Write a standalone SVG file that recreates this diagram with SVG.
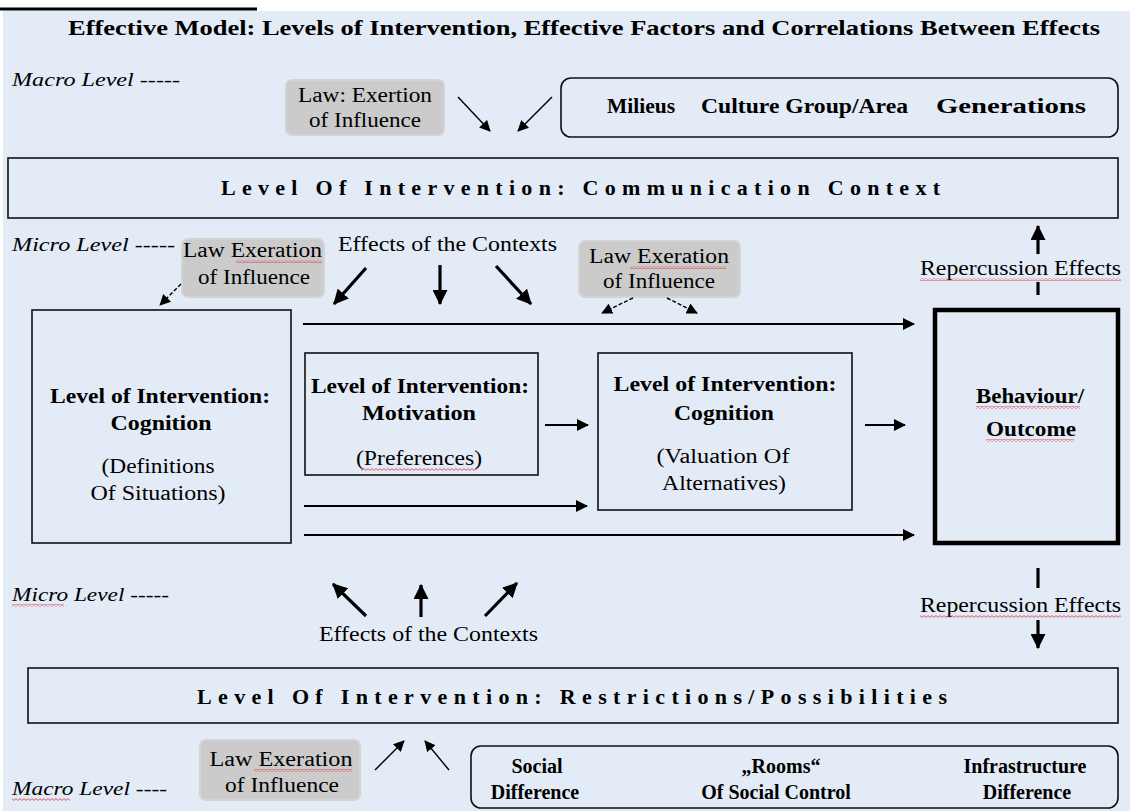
<svg xmlns="http://www.w3.org/2000/svg" width="1130" height="811" viewBox="0 0 1130 811">
<style>
.t{font-family:"Liberation Serif","DejaVu Serif",serif;fill:#000}
.b{font-weight:bold}
.it{font-style:italic}
.box{fill:none;stroke:#111;stroke-width:1.6}
.law{fill:#CBCBCB;stroke:#D4D4D4;stroke-width:2}
.thin{stroke:#000;stroke-width:1.4;fill:none}
.mid{stroke:#000;stroke-width:2;fill:none}
.thick{stroke:#000;stroke-width:3.2;fill:none}
.dash{stroke:#000;stroke-width:1.4;fill:none;stroke-dasharray:4 2}
.sq{fill:url(#squig)}
</style>
<defs>
<marker id="ah" viewBox="0 0 12 12" refX="11" refY="6" markerWidth="12" markerHeight="12" orient="auto" markerUnits="userSpaceOnUse"><path d="M0,0 L12,6 L0,12 z" fill="#000"/></marker>
<marker id="ahs" viewBox="0 0 12 12" refX="11" refY="6" markerWidth="11" markerHeight="11" orient="auto" markerUnits="userSpaceOnUse"><path d="M0,0 L12,6 L0,12 z" fill="#000"/></marker>
<marker id="ahb" viewBox="0 0 14 14" refX="13" refY="7" markerWidth="15" markerHeight="15" orient="auto" markerUnits="userSpaceOnUse"><path d="M0,0 L14,7 L0,14 z" fill="#000"/></marker>
<pattern id="squig" width="4" height="3" patternUnits="userSpaceOnUse"><path d="M0,0.6 L2,2.4 L4,0.6" stroke="#E0303A" stroke-width="0.8" fill="none"/></pattern>
</defs>

<rect x="0" y="0" width="1130" height="811" fill="#FFFFFF"/>
<rect x="3" y="11" width="1127" height="800" fill="#E3EBF6"/>
<line x1="0" y1="9" x2="257" y2="9" stroke="#000" stroke-width="3"/>

<text class="t b" x="68" y="35" font-size="22" textLength="1032" lengthAdjust="spacingAndGlyphs">Effective Model: Levels of Intervention, Effective Factors and Correlations Between Effects</text>

<g id="level-labels">
<text class="t it" x="12" y="86" font-size="19" textLength="168" lengthAdjust="spacingAndGlyphs">Macro Level -----</text>
<text class="t it" x="12" y="251" font-size="19" textLength="163" lengthAdjust="spacingAndGlyphs">Micro Level -----</text>
<text class="t it" x="12" y="601" font-size="19" textLength="157" lengthAdjust="spacingAndGlyphs">Micro Level -----</text>
<rect class="sq" x="12" y="604" width="52" height="3"/>
<text class="t it" x="12" y="795" font-size="19" textLength="155" lengthAdjust="spacingAndGlyphs">Macro Level ----</text>
<rect class="sq" x="12" y="798" width="58" height="3"/>
</g>

<g id="law-top">
<rect class="law" x="286" y="80" width="158" height="55" rx="6"/>
<text class="t" x="365" y="102" font-size="20" text-anchor="middle" textLength="134" lengthAdjust="spacingAndGlyphs">Law: Exertion</text>
<text class="t" x="365" y="127" font-size="20" text-anchor="middle" textLength="112" lengthAdjust="spacingAndGlyphs">of Influence</text>
</g>

<g id="macro-top">
<rect class="box" x="561" y="78" width="557" height="59" rx="10"/>
<text class="t b" x="607" y="113" font-size="20" textLength="68" lengthAdjust="spacingAndGlyphs">Milieus</text>
<text class="t b" x="701" y="113" font-size="20" textLength="207" lengthAdjust="spacingAndGlyphs">Culture Group/Area</text>
<text class="t b" x="936" y="113" font-size="20" textLength="150" lengthAdjust="spacingAndGlyphs">Generations</text>
</g>

<g id="communication-context">
<rect class="box" x="8" y="158" width="1110" height="60"/>
<text class="t b" x="221" y="195" font-size="22" textLength="719" lengthAdjust="spacing">Level Of Intervention: Communication Context</text>
</g>

<g id="law-micro-left">
<rect class="law" x="182" y="239" width="142" height="58" rx="6"/>
<text class="t" x="183" y="257" font-size="20" textLength="139" lengthAdjust="spacingAndGlyphs">Law Exeration</text>
<rect class="sq" x="236" y="260" width="86" height="3"/>
<text class="t" x="254" y="284" font-size="20" text-anchor="middle" textLength="112" lengthAdjust="spacingAndGlyphs">of Influence</text>
</g>

<g id="effects-top">
<text class="t" x="338" y="251" font-size="20" textLength="219" lengthAdjust="spacingAndGlyphs">Effects of the Contexts</text>
</g>

<g id="law-micro-right">
<rect class="law" x="579" y="241" width="161" height="56" rx="6"/>
<text class="t" x="659" y="263" font-size="20" text-anchor="middle" textLength="140" lengthAdjust="spacingAndGlyphs">Law Exeration</text>
<rect class="sq" x="630" y="266" width="96" height="3"/>
<text class="t" x="659" y="288" font-size="20" text-anchor="middle" textLength="112" lengthAdjust="spacingAndGlyphs">of Influence</text>
</g>

<g id="repercussion-top">
<text class="t" x="920" y="275" font-size="20" textLength="201" lengthAdjust="spacingAndGlyphs">Repercussion Effects</text>
<rect class="sq" x="920" y="278" width="201" height="3"/>
</g>

<g id="cognition-left">
<rect class="box" x="32" y="310" width="259" height="233"/>
<text class="t b" x="160" y="403" font-size="22" text-anchor="middle" textLength="220" lengthAdjust="spacingAndGlyphs">Level of Intervention:</text>
<text class="t b" x="161" y="430" font-size="22" text-anchor="middle" textLength="101" lengthAdjust="spacingAndGlyphs">Cognition</text>
<text class="t" x="158" y="473" font-size="20" text-anchor="middle" textLength="113" lengthAdjust="spacingAndGlyphs">(Definitions</text>
<text class="t" x="158" y="500" font-size="20" text-anchor="middle" textLength="135" lengthAdjust="spacingAndGlyphs">Of Situations)</text>
</g>

<g id="motivation">
<rect class="box" x="305" y="353" width="233" height="122"/>
<text class="t b" x="420" y="393" font-size="22" text-anchor="middle" textLength="218" lengthAdjust="spacingAndGlyphs">Level of Intervention:</text>
<text class="t b" x="419" y="420" font-size="22" text-anchor="middle" textLength="114" lengthAdjust="spacingAndGlyphs">Motivation</text>
<text class="t" x="419" y="465" font-size="20" text-anchor="middle" textLength="126" lengthAdjust="spacingAndGlyphs">(Preferences)</text>
<rect class="sq" x="361" y="468" width="116" height="3"/>
</g>

<g id="cognition-valuation">
<rect class="box" x="598" y="353" width="254" height="157"/>
<text class="t b" x="725" y="391" font-size="22" text-anchor="middle" textLength="223" lengthAdjust="spacingAndGlyphs">Level of Intervention:</text>
<text class="t b" x="724" y="420" font-size="22" text-anchor="middle" textLength="100" lengthAdjust="spacingAndGlyphs">Cognition</text>
<text class="t" x="723" y="463" font-size="20" text-anchor="middle" textLength="133" lengthAdjust="spacingAndGlyphs">(Valuation Of</text>
<text class="t" x="724" y="490" font-size="20" text-anchor="middle" textLength="124" lengthAdjust="spacingAndGlyphs">Alternatives)</text>
</g>

<g id="behaviour">
<rect x="935" y="310" width="183" height="233" fill="none" stroke="#000" stroke-width="4.5"/>
<text class="t b" x="1030" y="403" font-size="21" text-anchor="middle" textLength="108" lengthAdjust="spacingAndGlyphs">Behaviour/</text>
<rect class="sq" x="976" y="406" width="104" height="3"/>
<text class="t b" x="1031" y="436" font-size="21" text-anchor="middle" textLength="90" lengthAdjust="spacingAndGlyphs">Outcome</text>
<rect class="sq" x="986" y="439" width="88" height="3"/>
</g>

<g id="effects-bottom">
<text class="t" x="319" y="641" font-size="20" textLength="219" lengthAdjust="spacingAndGlyphs">Effects of the Contexts</text>
</g>

<g id="repercussion-bottom">
<text class="t" x="920" y="612" font-size="20" textLength="201" lengthAdjust="spacingAndGlyphs">Repercussion Effects</text>
<rect class="sq" x="920" y="615" width="201" height="3"/>
</g>

<g id="restrictions-possibilities">
<rect class="box" x="28" y="668" width="1090" height="55"/>
<text class="t b" x="197" y="704" font-size="22" textLength="750" lengthAdjust="spacing">Level Of Intervention: Restrictions/Possibilities</text>
</g>

<g id="law-bottom">
<rect class="law" x="200" y="740" width="160" height="60" rx="6"/>
<text class="t" x="281" y="766" font-size="20" text-anchor="middle" textLength="143" lengthAdjust="spacingAndGlyphs">Law Exeration</text>
<rect class="sq" x="254" y="769" width="98" height="3"/>
<text class="t" x="282" y="792" font-size="20" text-anchor="middle" textLength="114" lengthAdjust="spacingAndGlyphs">of Influence</text>
</g>

<g id="macro-bottom">
<rect class="box" x="471" y="746" width="647" height="62" rx="10"/>
<text class="t b" x="537" y="773" font-size="20" text-anchor="middle">Social</text>
<text class="t b" x="535" y="799" font-size="20" text-anchor="middle">Difference</text>
<text class="t b" x="781" y="773" font-size="20" text-anchor="middle">„Rooms“</text>
<text class="t b" x="776" y="799" font-size="20" text-anchor="middle">Of Social Control</text>
<text class="t b" x="1025" y="773" font-size="20" text-anchor="middle">Infrastructure</text>
<text class="t b" x="1027" y="799" font-size="20" text-anchor="middle">Difference</text>
</g>

<g id="connectors">
<line class="thin" x1="458" y1="97" x2="490" y2="131" marker-end="url(#ahs)"/>
<line class="thin" x1="552" y1="97" x2="518" y2="131" marker-end="url(#ahs)"/>
<line class="dash" x1="181" y1="284" x2="160" y2="305" marker-end="url(#ahs)"/>
<line class="thick" x1="366" y1="268" x2="334" y2="304" marker-end="url(#ahb)"/>
<line class="thick" x1="440" y1="265" x2="440" y2="304" marker-end="url(#ahb)"/>
<line class="thick" x1="496" y1="266" x2="531" y2="304" marker-end="url(#ahb)"/>
<line class="dash" x1="633" y1="298" x2="602" y2="313" marker-end="url(#ahs)"/>
<line class="dash" x1="667" y1="298" x2="697" y2="313" marker-end="url(#ahs)"/>
<line class="thick" x1="1038" y1="254" x2="1038" y2="226" marker-end="url(#ahb)"/>
<line class="thick" x1="1038" y1="282" x2="1038" y2="295"/>
<line class="mid" x1="303" y1="324" x2="914" y2="324" marker-end="url(#ah)"/>
<line class="mid" x1="545" y1="425" x2="588" y2="425" marker-end="url(#ah)"/>
<line class="mid" x1="865" y1="425" x2="905" y2="425" marker-end="url(#ah)"/>
<line class="mid" x1="304" y1="506" x2="587" y2="506" marker-end="url(#ah)"/>
<line class="mid" x1="304" y1="535" x2="914" y2="535" marker-end="url(#ah)"/>
<line class="thick" x1="366" y1="616" x2="333" y2="584" marker-end="url(#ahb)"/>
<line class="thick" x1="421" y1="617" x2="421" y2="585" marker-end="url(#ahb)"/>
<line class="thick" x1="485" y1="616" x2="517" y2="583" marker-end="url(#ahb)"/>
<line class="thick" x1="1038" y1="568" x2="1038" y2="588"/>
<line class="thick" x1="1038" y1="620" x2="1038" y2="648" marker-end="url(#ahb)"/>
<line class="thin" x1="375" y1="770" x2="404" y2="741" marker-end="url(#ahs)"/>
<line class="thin" x1="449" y1="770" x2="425" y2="741" marker-end="url(#ahs)"/>
</g>
</svg>
